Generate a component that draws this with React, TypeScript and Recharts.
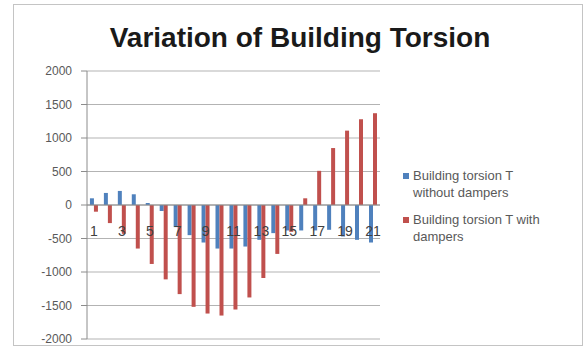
import React from "react";
import {
  BarChart,
  Bar,
  XAxis,
  YAxis,
  CartesianGrid,
  ReferenceLine,
} from "recharts";

const floors = [
  "1", "2", "3", "4", "5", "6", "7", "8", "9", "10", "11",
  "12", "13", "14", "15", "16", "17", "18", "19", "20", "21",
];

// torsion T without dampers
const withoutDampers = [
  100, 180, 210, 160, 30, -90, -330, -450, -560, -650, -650,
  -620, -520, -420, -380, -380, -380, -370, -470, -520, -560,
];

// torsion T with dampers
const withDampers = [
  -100, -270, -430, -650, -880, -1110, -1330, -1520, -1620, -1650, -1560,
  -1380, -1090, -730, -400, 100, 510, 850, 1110, 1280, 1370,
];

const yTicks = [-2000, -1500, -1000, -500, 0, 500, 1000, 1500, 2000];

const seriesNames = [
  "Building torsion T without dampers",
  "Building torsion T with dampers",
];

const W = 587;
const H = 354;
const MARGIN = { top: 71, right: 207, bottom: 14, left: 0 };
const X_AXIS_H = 1;
const Y_MIN = -2000;
const Y_MAX = 2000;
const FONT = "'Liberation Sans', Arial, sans-serif";

const data = floors.map((f, i) => ({
  floor: f,
  without: withoutDampers[i],
  with: withDampers[i],
}));

// category labels sit just under the zero line, like an Excel axis crossing at 0
const plotH = H - MARGIN.top - MARGIN.bottom - X_AXIS_H;
const zeroY = MARGIN.top + (plotH * Y_MAX) / (Y_MAX - Y_MIN);

function FloorTick(props: any) {
  const { x, payload } = props;
  return (
    <text
      x={x}
      y={zeroY + 31}
      textAnchor="middle"
      fontSize={14}
      fill="#404040"
      fontFamily={FONT}
    >
      {payload?.value}
    </text>
  );
}

function TorsionLegend() {
  const items = [
    { color: "#4F81BD", lines: ["Building torsion T", "without dampers"] },
    { color: "#C0504D", lines: ["Building torsion T with", "dampers"] },
  ];
  return (
    <div
      style={{
        position: "absolute",
        left: 403,
        top: 168,
        width: 170,
        fontFamily: FONT,
        fontSize: 13,
        color: "#595959",
        lineHeight: "16.5px",
      }}
    >
      {items.map((it, i) => (
        <div key={seriesNames[i]} style={{ display: "flex", marginBottom: 11 }}>
          <span
            style={{
              width: 6,
              height: 6,
              background: it.color,
              marginTop: 5,
              marginRight: 4,
              flex: "none",
            }}
          />
          <span>
            {it.lines[0]}
            <br />
            {it.lines[1]}
          </span>
        </div>
      ))}
    </div>
  );
}

export default function App() {
  return (
    <div
      style={{
        position: "absolute",
        left: 0,
        top: 0,
        width: W,
        height: H,
        background: "#fff",
      }}
    >
      <div
        style={{
          position: "absolute",
          left: 13,
          top: 4,
          width: 568,
          height: 340,
          border: "1px solid #c4c4c4",
        }}
      />
      <div
        style={{
          position: "absolute",
          left: 0,
          width: 600,
          top: 24,
          textAlign: "center",
          fontFamily: FONT,
          fontWeight: "bold",
          fontSize: 28,
          lineHeight: "28px",
          color: "#1a1a1a",
        }}
      >
        Variation of Building Torsion
      </div>
      <div style={{ position: "absolute", left: 0, top: 0 }}>
        <BarChart
          width={W}
          height={H}
          data={data}
          margin={MARGIN}
          barCategoryGap="21%"
          barGap={0}
        >
          <CartesianGrid vertical={false} stroke="#b3b3b3" />
          <XAxis
            dataKey="floor"
            height={X_AXIS_H}
            axisLine={false}
            tickLine={false}
            interval={1}
            tick={FloorTick}
          />
          <YAxis
            width={87}
            domain={[Y_MIN, Y_MAX]}
            ticks={yTicks}
            interval={0}
            axisLine={{ stroke: "#8c8c8c" }}
            tickLine={{ stroke: "#8c8c8c" }}
            tickSize={6}
            tickMargin={9}
            tick={{ fill: "#595959", fontSize: 12, fontFamily: FONT }}
          />
          <ReferenceLine y={0} stroke="#8c8c8c" />
          <Bar
            dataKey="without"
            name={seriesNames[0]}
            fill="#4F81BD"
            isAnimationActive={false}
          />
          <Bar
            dataKey="with"
            name={seriesNames[1]}
            fill="#C0504D"
            isAnimationActive={false}
          />
        </BarChart>
      </div>
      <TorsionLegend />
    </div>
  );
}
